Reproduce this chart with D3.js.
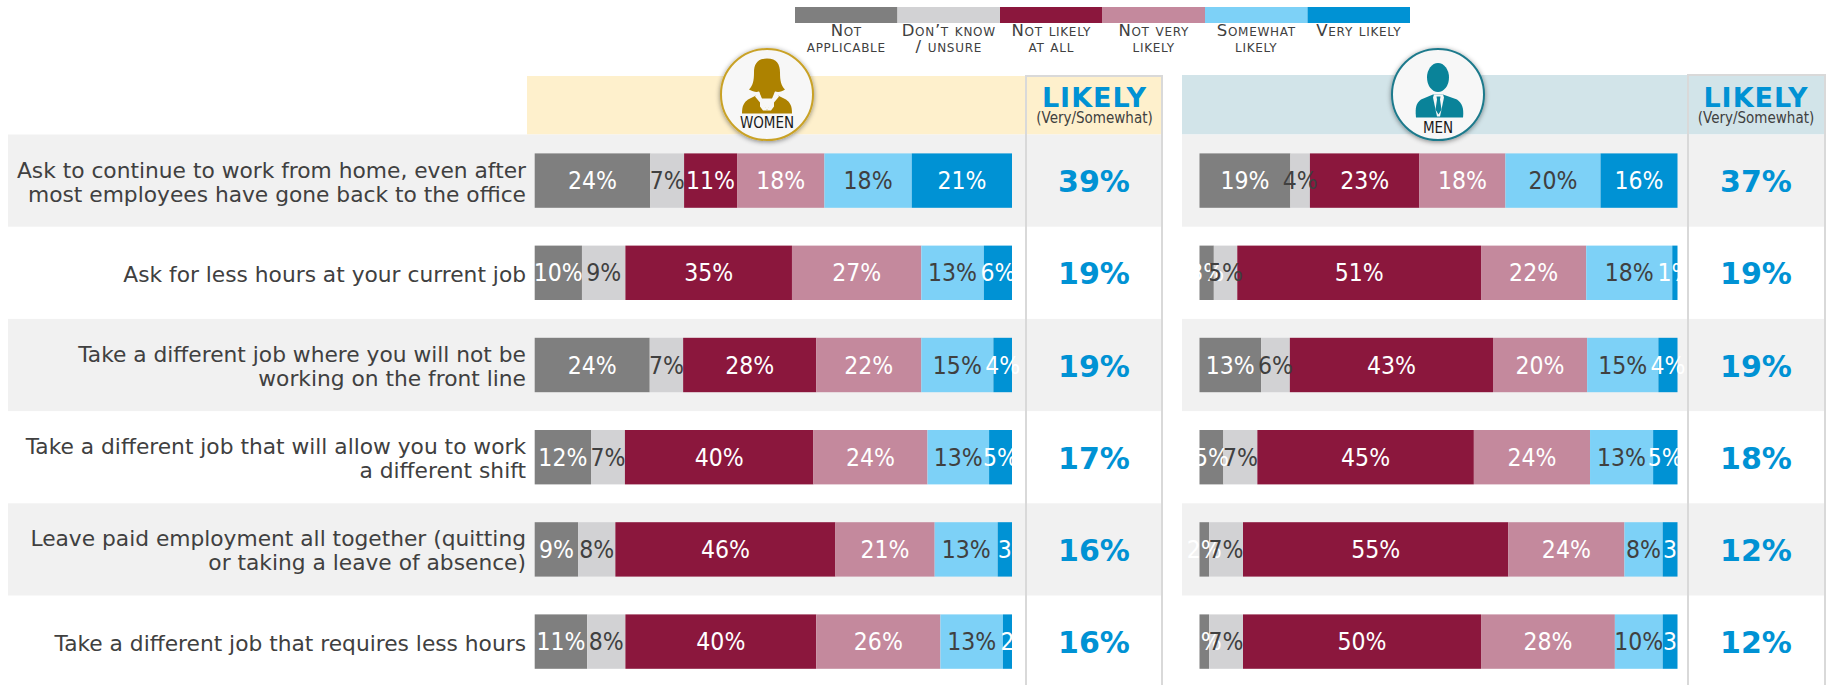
<!DOCTYPE html>
<html>
<head>
<meta charset="utf-8">
<script src="https://cdn.jsdelivr.net/npm/d3@7"></script>
<style>
  html, body { margin: 0; padding: 0; background: #ffffff; }
  svg { display: block; font-family: "DejaVu Sans", sans-serif; }
  .narrow { font-family: "DejaVu Sans Condensed", "DejaVu Sans", sans-serif; }
</style>
</head>
<body>
<svg id="chart"></svg>
<script>
// Survey questions, top to bottom. Two entries means two text lines.
const questions = [
  ["Ask to continue to work from home, even after", "most employees have gone back to the office"],
  ["Ask for less hours at your current job"],
  ["Take a different job where you will not be", "working on the front line"],
  ["Take a different job that will allow you to work", "a different shift"],
  ["Leave paid employment all together (quitting", "or taking a leave of absence)"],
  ["Take a different job that requires less hours"]
];

const answers = ["Not applicable", "Don't know / unsure", "Not likely at all", "Not very likely", "Somewhat likely", "Very likely"];
const legendLines = [
  ["Not", "applicable"],
  ["Don\u2019t know", "/ unsure"],
  ["Not likely", "at all"],
  ["Not very", "likely"],
  ["Somewhat", "likely"],
  ["Very likely"]
];

// Shares, one row per question.
const womenValues = [
  [24.2, 7.1, 11.1, 18.3, 18.3, 21.0],
  [9.9, 9.1, 34.9, 27.1, 13.1, 5.9],
  [24.1, 7.0, 27.9, 22.0, 15.1, 3.9],
  [11.8, 7.1, 39.5, 23.9, 12.9, 4.8],
  [9.1, 7.8, 46.1, 20.8, 13.2, 3.0],
  [11.0, 8.0, 40.0, 26.0, 13.1, 1.9]
];
const menValues = [
  [19.0, 4.1, 22.9, 18.0, 19.9, 16.1],
  [3.0, 4.9, 51.0, 22.0, 18.0, 1.1],
  [12.9, 6.0, 42.5, 19.7, 14.9, 4.0],
  [5.0, 7.1, 45.3, 24.3, 13.2, 5.1],
  [2.0, 7.1, 55.5, 24.3, 8.0, 3.1],
  [2.0, 7.1, 49.8, 28.0, 10.0, 3.1]
];

// Labels as printed, some lost their percent sign in the original.
const womenLabels = [
  ["24%", "7%", "11%", "18%", "18%", "21%"],
  ["10%", "9%", "35%", "27%", "13%", "6%"],
  ["24%", "7%", "28%", "22%", "15%", "4%"],
  ["12%", "7%", "40%", "24%", "13%", "5%"],
  ["9%", "8%", "46%", "21%", "13%", "3"],
  ["11%", "8%", "40%", "26%", "13%", "2"]
];
const menLabels = [
  ["19%", "4%", "23%", "18%", "20%", "16%"],
  ["3%", "5%", "51%", "22%", "18%", "1%"],
  ["13%", "6%", "43%", "20%", "15%", "4%"],
  ["5%", "7%", "45%", "24%", "13%", "5%"],
  ["2%", "7%", "55%", "24%", "8%", "3"],
  ["2%", "7%", "50%", "28%", "10%", "3"]
];

const womenLikely = [39, 19, 19, 17, 16, 16];
const menLikely = [37, 19, 19, 18, 12, 12];

const answerColors = ["#7f7f7f", "#d2d2d4", "#8b173d", "#c4899d", "#7dd1f7", "#0092d4"];
// Labels on the light segments are dark, the others white.
const labelColors = ["#ffffff", "#404040", "#ffffff", "#ffffff", "#404040", "#ffffff"];

// Set svg size.
const width = 1831;
const height = 685;

const svg = d3.select("#chart")
  .attr("width", width)
  .attr("height", height);

/*
 * Returns a translate string for the transform attribute.
 */
function translate(x, y) {
  return "translate(" + String(x) + "," + String(y) + ")";
}

// Rows share one vertical scale, each panel has its own horizontal one.
const rowScale = d3.scaleBand()
  .domain(d3.range(questions.length))
  .range([134.5, 134.5 + 92.2 * questions.length]);

const barHeight = 54.4;

const womenScale = d3.scaleLinear().domain([0, 100]).range([534.7, 1012]);
const menScale = d3.scaleLinear().domain([0, 100]).range([1199.5, 1677.5]);

const legendScale = d3.scaleBand()
  .domain(answers)
  .range([795, 1410]);

const stack = d3.stack().keys(d3.range(answers.length));

// Shadow for the two round badges.
const shadow = svg.append("defs").append("filter")
  .attr("id", "shadow")
  .attr("x", "-20%").attr("y", "-20%")
  .attr("width", "140%").attr("height", "140%");
shadow.append("feDropShadow")
  .attr("dx", 0).attr("dy", 1)
  .attr("stdDeviation", 2.5)
  .attr("flood-color", "#000000")
  .attr("flood-opacity", 0.45);

drawHeaders();
drawBands();
drawLegend();
drawQuestions();
drawPanel("women", womenValues, womenLabels, womenScale);
drawPanel("men", menValues, menLabels, menScale);
drawLikely(womenLikely, 1094);
drawLikely(menLikely, 1756);
drawBoxes();
drawBadge(767, "#c9a227", "#ad8200", "WOMEN", 33, womanIcon);
drawBadge(1438, "#1f7a8c", "#0a8399", "MEN", 38.5, manIcon);

/*
 * Colored strips behind the panel titles.
 */
function drawHeaders() {
  svg.append("rect")
    .attr("x", 527).attr("y", 76)
    .attr("width", 635).attr("height", 58.5)
    .attr("fill", "#fef0cc");

  svg.append("rect")
    .attr("x", 1182).attr("y", 75)
    .attr("width", 643).attr("height", 59.5)
    .attr("fill", "#d2e4e9");

  drawLikelyTitle(1094.5);
  drawLikelyTitle(1756);
}

function drawLikelyTitle(x) {
  svg.append("text")
    .attr("x", x).attr("y", 106.5)
    .attr("text-anchor", "middle")
    .attr("font-size", 27)
    .attr("font-weight", "bold")
    .attr("letter-spacing", 1)
    .attr("fill", "#0092d4")
    .text("LIKELY");

  svg.append("text")
    .attr("class", "narrow")
    .attr("x", x).attr("y", 122.5)
    .attr("text-anchor", "middle")
    .attr("font-size", 15)
    .attr("fill", "#404040")
    .text("(Very/Somewhat)");
}

/*
 * Grey stripes on every other row.
 */
function drawBands() {
  let bands = svg.append("g").attr("id", "bands")
    .selectAll("g")
    .data(d3.range(questions.length).filter(i => i % 2 == 0))
    .enter()
    .append("g");

  bands.append("rect")
    .attr("x", 8)
    .attr("y", d => rowScale(d))
    .attr("width", 1154)
    .attr("height", rowScale.bandwidth())
    .attr("fill", "#f1f1f1");

  bands.append("rect")
    .attr("x", 1182)
    .attr("y", d => rowScale(d))
    .attr("width", 643)
    .attr("height", rowScale.bandwidth())
    .attr("fill", "#f1f1f1");
}

function drawLegend() {
  let legend = svg.append("g").attr("id", "legend");

  legend.selectAll("rect")
    .data(answers)
    .enter()
    .append("rect")
    .attr("x", d => legendScale(d))
    .attr("y", 7)
    .attr("width", legendScale.bandwidth())
    .attr("height", 16)
    .attr("fill", (d, i) => answerColors[i]);

  let labels = legend.selectAll("text")
    .data(answers)
    .enter()
    .append("text")
    .attr("text-anchor", "middle")
    .attr("font-size", 16.5)
    .attr("letter-spacing", 0.7)
    .attr("fill", "#404040")
    .style("font-variant", "small-caps");

  labels.selectAll("tspan")
    .data((d, i) => legendLines[i].map(line => ({ line: line, answer: d })))
    .enter()
    .append("tspan")
    .attr("x", d => legendScale(d.answer) + legendScale.bandwidth() / 2)
    .attr("y", (d, i) => 36 + i * 16)
    .text(d => d.line);
}

/*
 * Right aligned question text, one or two lines.
 */
function drawQuestions() {
  let rows = svg.append("g").attr("id", "questions")
    .selectAll("text")
    .data(questions)
    .enter()
    .append("text")
    .attr("text-anchor", "end")
    .attr("font-size", 21.75)
    .attr("fill", "#404040");

  rows.selectAll("tspan")
    .data((d, i) => d.map((line, j) => ({ line: line, row: i, index: j, count: d.length })))
    .enter()
    .append("tspan")
    .attr("x", 526)
    .attr("y", d => rowScale(d.row) + rowScale.bandwidth() / 2 + 9 + (d.index - (d.count - 1) / 2) * 24)
    .text(d => d.line);
}

/*
 * Stacked bars and their labels for one panel.
 */
function drawPanel(id, values, labels, xScale) {
  let series = stack(values);
  let panel = svg.append("g").attr("id", id);

  let layers = panel.selectAll("g.layer")
    .data(series)
    .enter()
    .append("g")
    .attr("class", "layer");

  layers.selectAll("rect")
    .data(d => d)
    .enter()
    .append("rect")
    .attr("x", d => xScale(d[0]))
    .attr("y", (d, i) => rowScale(i) + (rowScale.bandwidth() - barHeight) / 2)
    .attr("width", d => xScale(d[1]) - xScale(d[0]))
    .attr("height", barHeight)
    .attr("fill", d => answerColors[series.findIndex(s => s.includes(d))]);

  // Labels go on top of all bars, so that narrow ones run over their neighbours.
  series.forEach((layer, k) => {
    panel.append("g")
      .selectAll("text")
      .data(layer)
      .enter()
      .append("text")
      .attr("class", "narrow")
      .attr("x", d => xScale((d[0] + d[1]) / 2))
      .attr("y", (d, i) => rowScale(i) + rowScale.bandwidth() / 2 + 8.5)
      .attr("text-anchor", "middle")
      .attr("font-size", 24.5)
      .attr("fill", labelColors[k])
      .text((d, i) => labels[i][k]);
  });
}

function drawLikely(values, x) {
  svg.append("g")
    .selectAll("text")
    .data(values)
    .enter()
    .append("text")
    .attr("x", x)
    .attr("y", (d, i) => rowScale(i) + rowScale.bandwidth() / 2 + 11.5)
    .attr("text-anchor", "middle")
    .attr("font-size", 30)
    .attr("font-weight", "bold")
    .attr("fill", "#0092d4")
    .text(d => d + "%");
}

/*
 * Grey outline of the two LIKELY columns, open at the bottom.
 */
function drawBoxes() {
  let line = d3.line();

  svg.append("path")
    .attr("d", line([[1026, height], [1026, 76], [1162, 76], [1162, height]]))
    .attr("fill", "none")
    .attr("stroke", "#d9d9d9")
    .attr("stroke-width", 2);

  svg.append("path")
    .attr("d", line([[1688, height], [1688, 75], [1825, 75], [1825, height]]))
    .attr("fill", "none")
    .attr("stroke", "#d9d9d9")
    .attr("stroke-width", 2);
}

function womanIcon(g, color) {
  // Hair and head.
  g.append("path")
    .attr("fill", color)
    .attr("d", "M0,-36 C-10,-36 -13,-30 -13,-22 C-13,-14 -14,-9 -18,-5 C-14,-3 -11,-2 -8,-3 L-6,4 L7,4 L8,-3 C12,-2 15,-3 18,-5 C14,-9 13,-14 13,-22 C13,-30 10,-36 0,-36 Z");
  // Jacket.
  g.append("path")
    .attr("fill", color)
    .attr("d", "M-25,19 C-25,11 -23,8 -19,5 L-9,0 L0,16 L9,0 L19,5 C23,8 25,11 25,19 Z");
  // Collar, open down to a point with the neck showing between.
  g.append("path")
    .attr("fill", "#f7f7f7")
    .attr("d", "M-12,2 L-8,-3 L0,16 L-4,16 L-7,12 L-7,8 Z M12,2 L8,-3 L0,16 L4,16 L7,12 L7,8 Z");
}

function manIcon(g, color) {
  g.append("ellipse")
    .attr("cx", 0).attr("cy", -17)
    .attr("rx", 11).attr("ry", 14.5)
    .attr("fill", color);
  // Jacket.
  g.append("path")
    .attr("fill", color)
    .attr("d", "M-22,23 C-23,13 -22,9 -17,5 L-5,0 L5,0 L19,5 C24,9 26,13 25,23 Z");
  // Shirt and tie.
  g.append("path")
    .attr("fill", "#f7f7f7")
    .attr("d", "M-4,0 L5,0 L6,3 L2,22 L-1,22 L-5,3 Z");
  g.append("path")
    .attr("fill", color)
    .attr("d", "M-1.5,2 L2.5,2 L2,5 L3.5,15 L0.5,20 L-2.5,15 L-1,5 Z");
}

/*
 * Round badge with the person icon and its caption.
 */
function drawBadge(x, ringColor, iconColor, caption, captionY, icon) {
  let badge = svg.append("g").attr("transform", translate(x, 94.5));

  badge.append("ellipse")
    .attr("rx", 46)
    .attr("ry", 45.5)
    .attr("fill", "#f7f7f7")
    .attr("stroke", ringColor)
    .attr("stroke-width", 2)
    .attr("filter", "url(#shadow)");

  icon(badge, iconColor);

  badge.append("text")
    .attr("class", "narrow")
    .attr("y", captionY)
    .attr("text-anchor", "middle")
    .attr("font-size", 15)
    .attr("fill", "#1a1a1a")
    .text(caption);
}
</script>
</body>
</html>
